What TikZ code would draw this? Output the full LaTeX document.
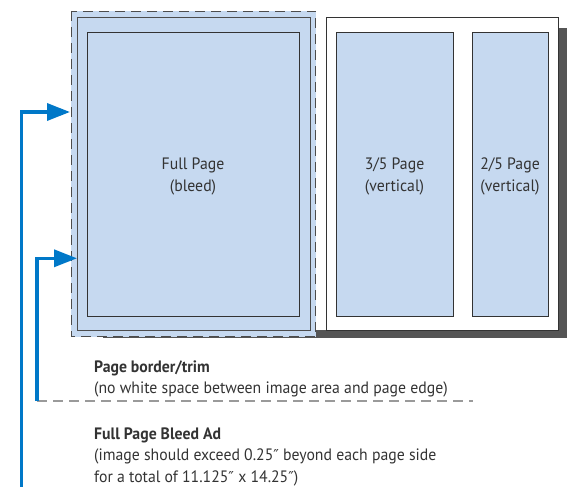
\documentclass[tikz,border=0pt]{standalone}
\usepackage{fontspec}
\setmainfont[FakeStretch=0.955]{PT Sans}
\newfontfamily\primefont{DejaVu Sans}
\usetikzlibrary{arrows.meta}
\definecolor{pageblue}{HTML}{C6D9F0}
\definecolor{arrowblue}{HTML}{0078C8}
\definecolor{shadowgray}{HTML}{555555}
\definecolor{txtgray}{HTML}{333333}
\definecolor{dashgray}{HTML}{9A9A9A}
\newcommand{\dprime}{{\primefont\fontsize{15}{15}\selectfont ″}}
\tikzset{
  box/.style={draw=#1, line width=0.9pt, inner sep=0pt, anchor=north west},
  bluebox/.style={box=black!80, fill=pageblue},
  lbl/.style={text=txtgray, font=\fontsize{16.5}{22}\selectfont, align=center},
  note/.style={text=txtgray, font=\fontsize{16.5}{22}\selectfont, anchor=base west, inner sep=0pt},
  ptr/.style={draw=arrowblue, line width=3.5pt, -{Triangle[length=23pt,width=17pt]}},
  trimline/.style={draw=dashgray, line width=2pt, dash pattern=on 10pt off 6pt},
}
\begin{document}
\begin{tikzpicture}[x=1pt,y=-1pt]
\useasboundingbox (0,0) rectangle (570,487);
% shadow
\fill[shadowgray] (103,330) rectangle (567,338);
\fill[shadowgray] (555,28) rectangle (567,338);
% left page
\node[box=pageblue, fill=pageblue, minimum width=244pt, minimum height=325pt] (bleed) at (71,11) {};
\draw[black!70, line width=0.9pt, dash pattern=on 10pt off 6pt] (bleed.north west) rectangle (bleed.south east);
\node[box=black!70, fill=pageblue, minimum width=233pt, minimum height=313pt] (trim) at (77,17) {};
\node[bluebox, minimum width=212pt, minimum height=284pt] (live) at (87,32) {};
\node[lbl] (fulltxt) at (193,176) {Full Page\\(bleed)};
% right page
\node[box=black!80, fill=white, minimum width=232pt, minimum height=313pt] (rpage) at (326,17) {};
\node[bluebox, minimum width=117pt, minimum height=284pt] (three) at (336,32) {};
\node[bluebox, minimum width=76pt, minimum height=284pt] (two) at (472,32) {};
\node[lbl] (threetxt) at (394.5,176) {3/5 Page\\(vertical)};
\node[lbl] (twotxt) at (510,176) {2/5 Page\\(vertical)};
% notes
\node[note] (t1) at (94,372) {\bfseries Page border/trim};
\node[note] (t2) at (94,393) {(no white space between image area and page edge)};
\node[note] (t3) at (94,439) {\bfseries Full Page Bleed Ad};
\node[note] (t4) at (94,460.5) {(image should exceed 0.25\dprime{} beyond each page side};
\node[note] (t5) at (94,482) {for a total of 11.125\dprime{} x 14.25\dprime)};
% trim dashed line and arrows
\coordinate (dstart) at (37,400.5);
\coordinate (dend) at (473,400.5);
\coordinate (ostart) at (21.5,490);
\coordinate (otip) at (70,112);
\coordinate (itip) at (77,258.3);
\draw[trimline] (dstart) -- (dend);
\draw[ptr] (dstart) |- (itip);
\draw[ptr] (ostart) |- (otip);
\end{tikzpicture}
\end{document}
